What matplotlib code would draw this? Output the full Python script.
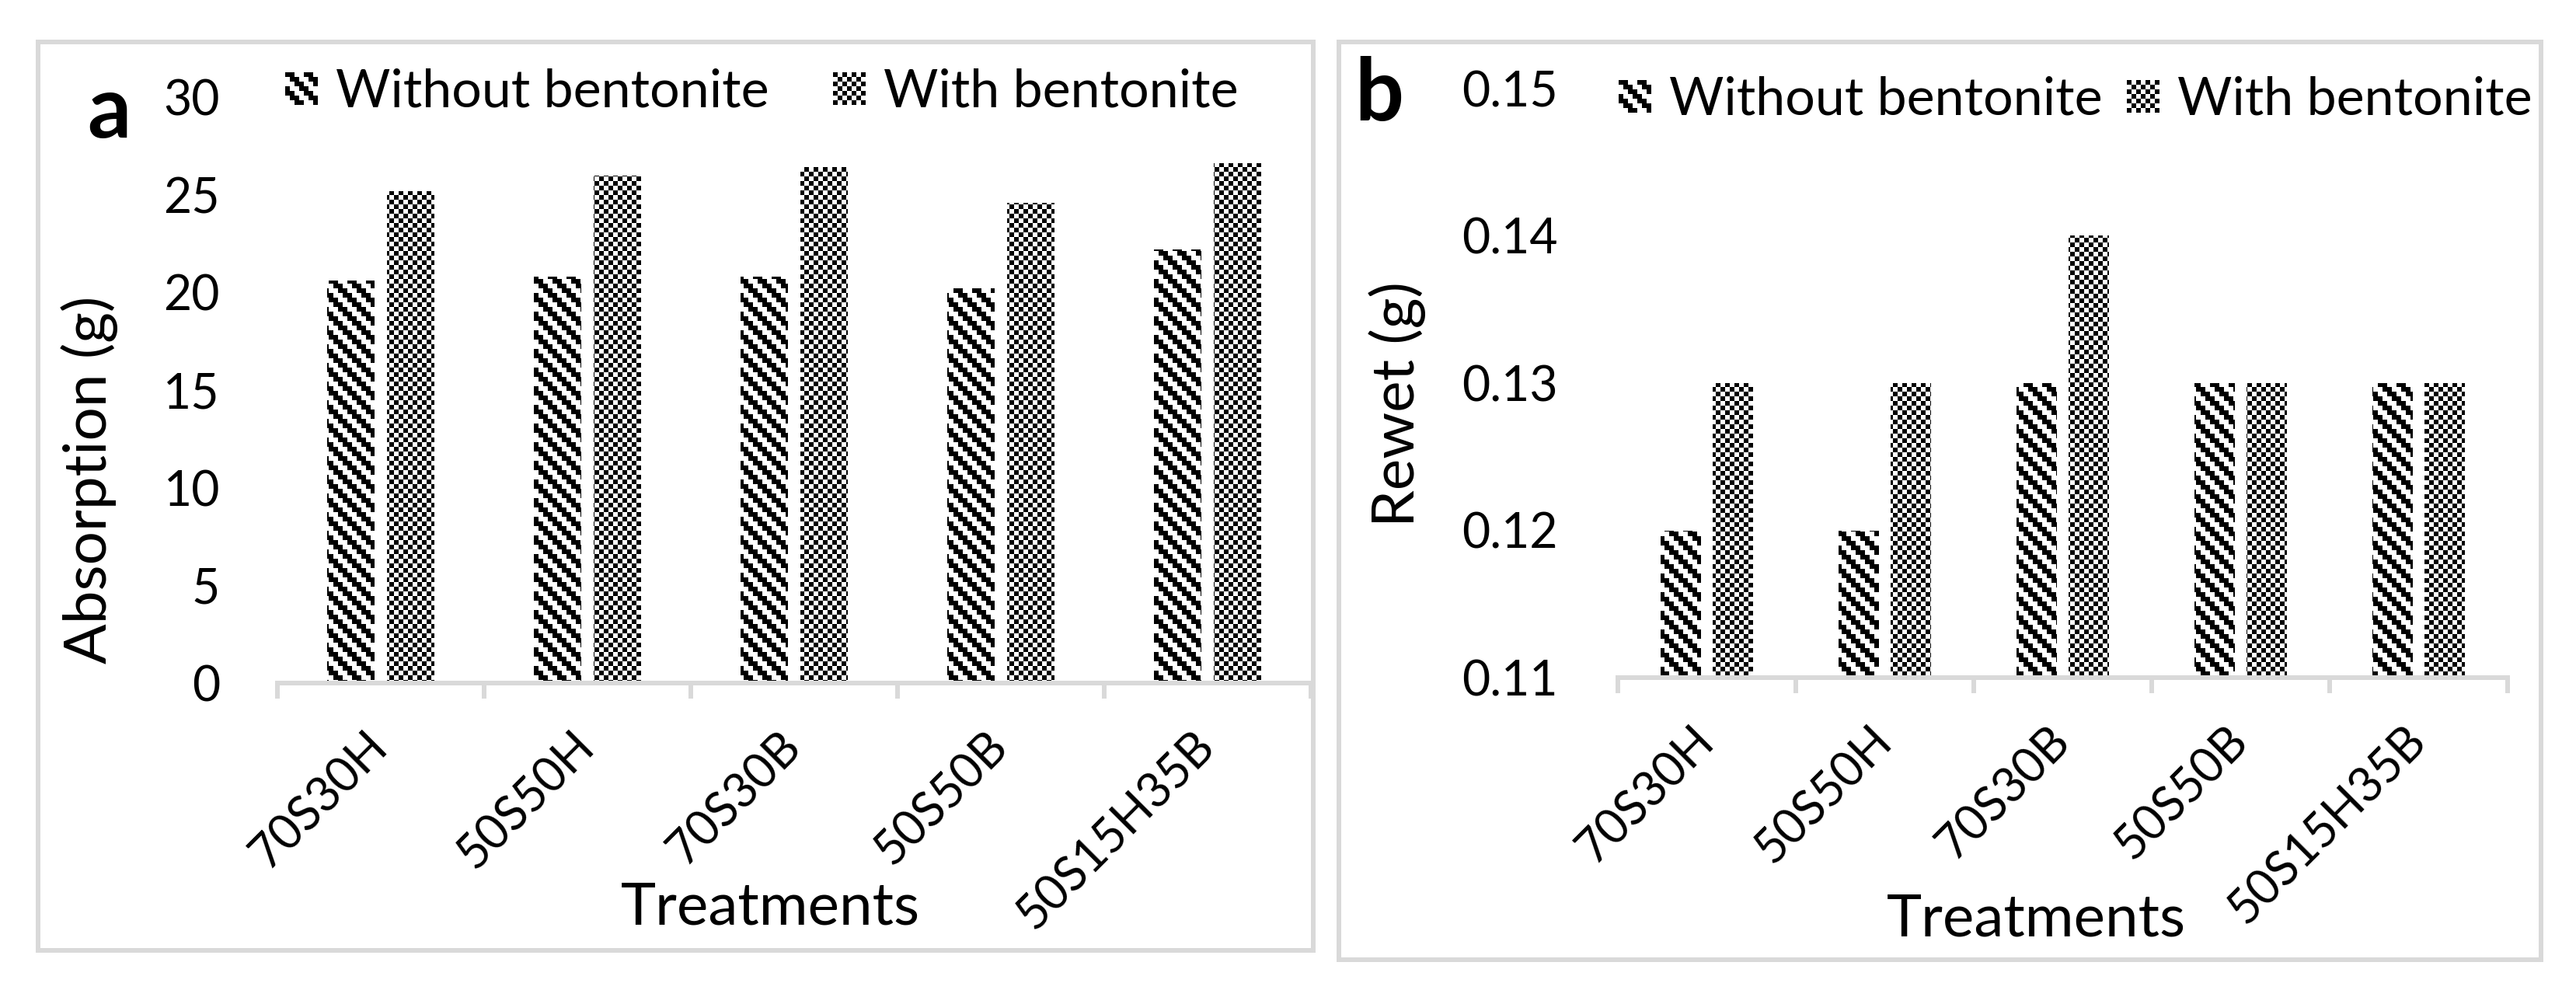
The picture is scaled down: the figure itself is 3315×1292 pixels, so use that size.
import numpy as np
import matplotlib
matplotlib.use("Agg")
import matplotlib.pyplot as plt
from matplotlib.patches import Rectangle
from matplotlib.path import Path
from matplotlib.legend_handler import HandlerBase
from matplotlib.ticker import FormatStrFormatter

treatments = ["70S30H", "50S50H", "70S30B", "50S50B", "50S15H35B"]
series_labels = ["Without bentonite", "With bentonite"]

absorption_without = [20.6, 20.8, 20.8, 20.2, 22.2]
absorption_with = [25.2, 26.0, 26.4, 24.6, 26.6]
absorption_ticks = [0, 5, 10, 15, 20, 25, 30]

rewet_without = [0.12, 0.12, 0.13, 0.13, 0.13]
rewet_with = [0.13, 0.13, 0.14, 0.13, 0.13]
rewet_ticks = [0.11, 0.12, 0.13, 0.14, 0.15]

DPI = 100
W, H = 3316, 1292
GRAY = "#D9D9D9"
BLOCK = 6  # pattern cell size in pixels

plt.rcParams["font.family"] = ["Lato", "DejaVu Sans"]


def px(v):
    # pixels -> points
    return v * 72 / DPI


def pattern(kind, r, c):
    # r, c are pattern cells (BLOCK px each), r counted downwards
    if kind == "stripe":
        return ((c - r) % 4) < 2
    return ((r + c) % 2) == 0


def fill_pattern(ax, bars, kind):
    bb = ax.get_window_extent()
    w, h = int(round(bb.width)), int(round(bb.height))
    rows, cols = np.mgrid[0:h, 0:w] // BLOCK
    img = np.where(pattern(kind, rows, cols), 0.0, 1.0)
    x0, x1 = ax.get_xlim()
    y0, y1 = ax.get_ylim()
    im = ax.imshow(img, cmap="gray", vmin=0, vmax=1, extent=(x0, x1, y0, y1),
                   origin="upper", aspect="auto", interpolation="nearest", zorder=2)
    path = Path.make_compound_path(
        *[p.get_path().transformed(p.get_patch_transform()) for p in bars])
    im.set_clip_path(path, ax.transData)
    ax.set_xlim(x0, x1)
    ax.set_ylim(y0, y1)


class PatternHandler(HandlerBase):
    def __init__(self, kind):
        super().__init__()
        self.kind = kind

    def legend_artist(self, legend, orig_handle, fontsize, handlebox):
        blk = px(BLOCK)
        w, h = handlebox.width, handlebox.height
        x0, y0 = -handlebox.xdescent, -handlebox.ydescent
        first = None
        for r in range(int(round(h / blk))):
            for c in range(int(round(w / blk))):
                if pattern(self.kind, r, c):
                    sq = Rectangle((x0 + c * blk, y0 + h - (r + 1) * blk), blk, blk,
                                   facecolor="black", linewidth=0)
                    handlebox.add_artist(sq)
                    if first is None:
                        first = sq
        return first


def draw_panel(ax, without, with_, ticks, ylabel, ypad, label_xy, legend_xy, colspace):
    x = np.arange(len(treatments))
    bw, off = 0.228, 0.145
    b1 = ax.bar(x - off, without, bw, color="none", linewidth=0, zorder=1)
    b2 = ax.bar(x + off, with_, bw, color="none", linewidth=0, zorder=1)

    ax.set_xlim(-0.5, len(treatments) - 0.5)
    ax.set_ylim(ticks[0], ticks[-1])
    ax.set_facecolor("none")
    fill_pattern(ax, b1, "stripe")
    fill_pattern(ax, b2, "checker")

    ax.set_yticks(ticks)
    ax.set_xticks(x)
    ax.set_xticklabels(treatments, rotation=45, ha="right", va="center",
                       rotation_mode="anchor")
    ax.set_xticks(np.arange(-0.5, len(treatments), 1), minor=True)
    ax.tick_params(axis="x", which="major", length=0, pad=52, labelsize=44)
    ax.tick_params(axis="x", which="minor", length=px(20), width=px(6), color=GRAY)
    ax.tick_params(axis="y", length=0, pad=ypad, labelsize=45)
    for s in ["left", "right", "top"]:
        ax.spines[s].set_visible(False)
    ax.spines["bottom"].set_color(GRAY)
    ax.spines["bottom"].set_linewidth(px(6))

    ax.set_xlabel("Treatments", fontsize=55)
    ax.xaxis.set_label_coords(*label_xy[0])
    ax.xaxis.label.set_va("center")
    ax.set_ylabel(ylabel, fontsize=55)
    ax.yaxis.set_label_coords(*label_xy[1])
    ax.yaxis.label.set_va("center")

    ax.legend([b1, b2], series_labels,
              handler_map={b1: PatternHandler("stripe"), b2: PatternHandler("checker")},
              loc="center left", bbox_to_anchor=legend_xy, bbox_transform=ax.figure.transFigure,
              frameon=False, fontsize=49, ncol=2, handlelength=0.62, handleheight=0.53,
              handletextpad=0.34, columnspacing=colspace, borderpad=0, borderaxespad=0)


fig = plt.figure(figsize=(W / DPI, H / DPI), dpi=DPI)

# panel frames
for (l, t, r, b) in [(48.7, 54, 1690, 1223), (1722.5, 54, 3269.5, 1235)]:
    fig.add_artist(Rectangle((l / W, 1 - b / H), (r - l) / W, (b - t) / H,
                             transform=fig.transFigure, fill=False,
                             edgecolor=GRAY, linewidth=px(6), zorder=5))

ax1 = fig.add_axes([357 / W, 1 - 879 / H, 1330 / W, 754 / H])
ax2 = fig.add_axes([2082 / W, 1 - 872 / H, 1145 / W, 758 / H])

draw_panel(ax1, absorption_without, absorption_with, absorption_ticks, "Absorption (g)",
           px(74), [(0.477, -0.383), (-0.182, 0.347)], (367 / W, 1 - 118 / H), 1.2)
draw_panel(ax2, rewet_without, rewet_with, rewet_ticks, "Rewet (g)",
           px(77), [(0.47, -0.41), (-0.248, 0.464)], (2083 / W, 1 - 128 / H), 0.45)
ax2.yaxis.set_major_formatter(FormatStrFormatter("%.2f"))

fig.text(112 / W, 1 - 177 / H, "a", fontsize=80, fontweight="bold", va="baseline", ha="left")
fig.text(1743 / W, 1 - 155 / H, "b", fontsize=80, fontweight="bold", va="baseline", ha="left")

fig.savefig("out.png", dpi=DPI, facecolor="white")
